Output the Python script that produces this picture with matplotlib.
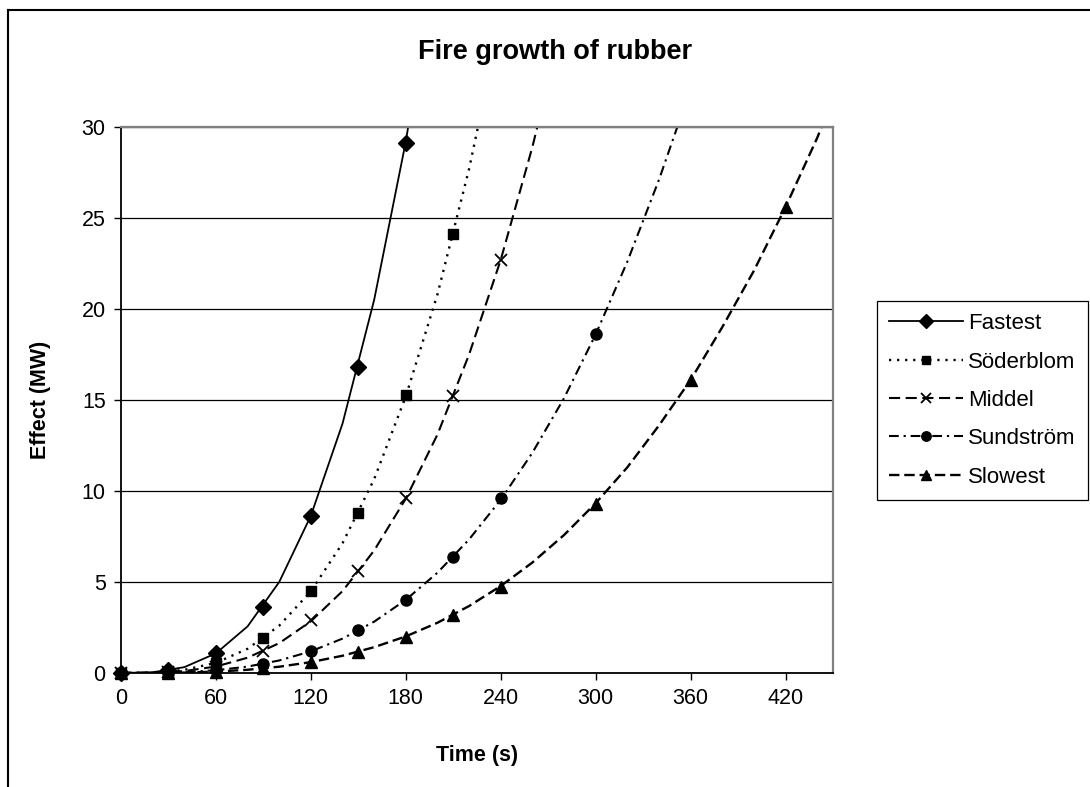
import matplotlib
matplotlib.use("Agg")
import matplotlib.pyplot as plt
from matplotlib.lines import Line2D

plt.rcParams['font.family'] = ['Liberation Sans', 'DejaVu Sans']
plt.rcParams['lines.scale_dashes'] = False

# ---- data ----
series_names = ["Fastest", "Söderblom", "Middel", "Sundström", "Slowest"]

# marker points (every 30 s, then every 60 s)
mark_t_fastest = [0, 30, 60, 90, 120, 150, 180]
mark_y_fastest = [0, 0.14, 1.1, 3.6, 8.6, 16.8, 29.1]
mark_t_soderblom = [0, 30, 60, 90, 120, 150, 180, 210]
mark_y_soderblom = [0, 0.07, 0.56, 1.9, 4.5, 8.8, 15.3, 24.1]
mark_t_middel = [0, 30, 60, 90, 120, 150, 180, 210, 240]
mark_y_middel = [0, 0.04, 0.35, 1.2, 2.9, 5.6, 9.6, 15.2, 22.7]
mark_t_sundstrom = [0, 30, 60, 90, 120, 150, 180, 210, 240, 300]
mark_y_sundstrom = [0, 0.02, 0.15, 0.5, 1.2, 2.35, 4.0, 6.4, 9.6, 18.6]
mark_t_slowest = [0, 30, 60, 90, 120, 150, 180, 210, 240, 300, 360, 420]
mark_y_slowest = [0, 0.01, 0.08, 0.25, 0.6, 1.15, 2.0, 3.2, 4.75, 9.3, 16.1, 25.6]

# curve points (every 20 s)
line_t_fastest = [0, 20, 40, 60, 80, 100, 120, 140, 160, 180, 200]
line_y_fastest = [0, 0.04, 0.32, 1.08, 2.56, 5.0, 8.64, 13.7, 20.5, 29.2, 40.0]
line_t_soderblom = [0, 20, 40, 60, 80, 100, 120, 140, 160, 180, 200, 220, 240]
line_y_soderblom = [0, 0.02, 0.17, 0.56, 1.33, 2.6, 4.49, 7.13, 10.65, 15.2, 20.8, 27.7, 35.9]
line_t_middel = [0, 20, 40, 60, 80, 100, 120, 140, 160, 180, 200, 220, 240, 260, 280]
line_y_middel = [0, 0.013, 0.105, 0.355, 0.84, 1.64, 2.84, 4.5, 6.73, 9.58, 13.1, 17.5, 22.7, 28.9, 36.0]
line_t_sundstrom = [0, 20, 40, 60, 80, 100, 120, 140, 160, 180, 200, 220, 240, 260, 280,
                    300, 320, 340, 360]
line_y_sundstrom = [0, 0.006, 0.044, 0.149, 0.353, 0.689, 1.19, 1.89, 2.82, 4.02, 5.51, 7.34,
                    9.52, 12.1, 15.1, 18.6, 22.6, 27.1, 32.1]
line_t_slowest = [0, 20, 40, 60, 80, 100, 120, 140, 160, 180, 200, 220, 240, 260, 280, 300,
                  320, 340, 360, 380, 400, 420, 440, 460]
line_y_slowest = [0, 0.003, 0.022, 0.075, 0.177, 0.345, 0.597, 0.948, 1.42, 2.01, 2.76, 3.68,
                  4.78, 6.07, 7.58, 9.33, 11.3, 13.6, 16.1, 19.0, 22.1, 25.6, 29.4, 33.8]

x_ticks = [0, 60, 120, 180, 240, 300, 360, 420]
y_ticks = [0, 5, 10, 15, 20, 25, 30]

# ---- styles ----
styles = [
    dict(ls='-', lw=1.3, marker='D', ms=8.5),
    dict(ls=(0, (1.6, 4.2)), lw=1.7, marker='s', ms=7.5),
    dict(ls=(0, (8, 4)), lw=1.5, marker='x', ms=8, mew=1.3),
    dict(ls=(0, (7, 3.5, 1.6, 3.5)), lw=1.5, marker='o', ms=8),
    dict(ls=(0, (7.5, 3.5)), lw=1.7, marker='^', ms=8.5),
]

lines_data = [
    (line_t_fastest, line_y_fastest, mark_t_fastest, mark_y_fastest),
    (line_t_soderblom, line_y_soderblom, mark_t_soderblom, mark_y_soderblom),
    (line_t_middel, line_y_middel, mark_t_middel, mark_y_middel),
    (line_t_sundstrom, line_y_sundstrom, mark_t_sundstrom, mark_y_sundstrom),
    (line_t_slowest, line_y_slowest, mark_t_slowest, mark_y_slowest),
]

W, H = 1090, 787
fig = plt.figure(figsize=(W / 100, H / 100), dpi=100)
fig.patch.set_facecolor('white')
ax = fig.add_axes([121 / W, 1 - 673 / H, (833 - 121) / W, (673 - 127) / H])

handles = []
for name, st, (lt, ly, mt, my) in zip(series_names, styles, lines_data):
    ax.plot(lt, ly, color='black', linestyle=st['ls'], linewidth=st['lw'], clip_on=True)
    ax.plot(mt, my, color='black', linestyle='none', marker=st['marker'],
            markersize=st['ms'], markeredgewidth=st.get('mew', 1.0), clip_on=False)
    handles.append(Line2D([], [], color='black', linestyle=st['ls'], linewidth=st['lw'],
                          marker=st['marker'], markersize=st['ms'] * 0.85,
                          markeredgewidth=st.get('mew', 1.0)))

ax.set_xlim(0, 450)
ax.set_ylim(0, 30)
ax.set_xticks(x_ticks)
ax.set_yticks(y_ticks)
ax.tick_params(axis='both', direction='out', length=5, width=1.0, labelsize=15.5, pad=6,
               color='black')
ax.yaxis.grid(True, color='black', linewidth=0.9)
ax.set_axisbelow(True)
for s in ['left', 'bottom']:
    ax.spines[s].set_color('black')
    ax.spines[s].set_linewidth(1.3)
for s in ['top', 'right']:
    ax.spines[s].set_color('#808080')
    ax.spines[s].set_linewidth(1.6)

ax.set_xlabel('Time (s)', fontsize=15.5, fontweight='bold', labelpad=26)
ax.set_ylabel('Effect (MW)', fontsize=15.5, fontweight='bold', labelpad=22)

fig.text(555 / W, 1 - 52 / H, 'Fire growth of rubber', fontsize=19.5, fontweight='bold',
         ha='center', va='center')

leg = fig.legend(handles, series_names, loc='upper left',
                 bbox_to_anchor=(877 / W, 1 - 301 / H), fontsize=16,
                 frameon=True, fancybox=False, framealpha=1, edgecolor='black',
                 handlelength=3.3, handletextpad=0.25, labelspacing=0.78,
                 borderpad=0.55, borderaxespad=0)
leg.get_frame().set_linewidth(0.9)

# outer chart border (cropped at right/bottom)
fig.add_artist(Line2D([8 / W, 1.0], [1 - 10 / H, 1 - 10 / H], transform=fig.transFigure,
                      color='black', linewidth=1.5))
fig.add_artist(Line2D([8 / W, 8 / W], [0, 1 - 10 / H], transform=fig.transFigure,
                      color='black', linewidth=1.5))

fig.savefig('out.png', dpi=100)
